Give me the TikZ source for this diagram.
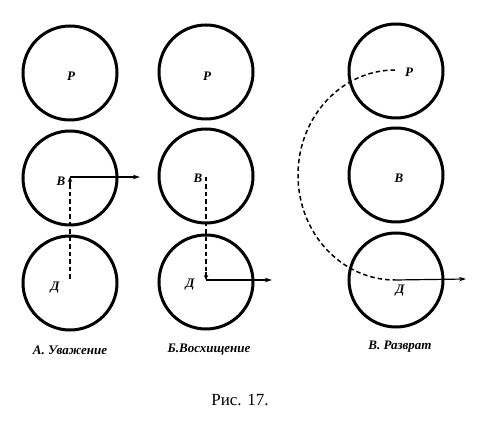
\documentclass[tikz,border=0pt]{standalone}
\usepackage{fontspec}
\setmainfont{Liberation Serif}
\usetikzlibrary{arrows.meta}
\tikzset{
  ring/.style={draw, circle, line width=3pt, minimum size=94pt, inner sep=0pt},
  lbl/.style={font=\fontsize{13}{15}\selectfont\bfseries\itshape, inner sep=0pt},
  vec/.style={line width=1.2pt, -{Stealth[length=7pt,width=4.5pt]}},
  trace/.style={line width=1.5pt, dash pattern=on 4.5pt off 3pt},
  tip/.style={-{Stealth[length=5pt,width=4.5pt,sep=0pt]}},
}
\begin{document}
\begin{tikzpicture}[x=1pt,y=-1pt]
\useasboundingbox (0,0) rectangle (485,430);
% A. respect
\node[ring] (aRc) at (70,73) {};
\node[ring] (aVc) at (70,178) {};
\node[ring] (aDc) at (70,283) {};
\node[lbl] (aR) at (71,76) {Р};
\node[lbl] (aV) at (61,181) {В};
\node[lbl] (aD) at (55,288) {Д};
\coordinate (aVp) at (70,177);
\coordinate (aDp) at (70,279);
\coordinate (aE) at (140,177);
\draw[trace] (aDp) -- (70,184);
\draw[tip, line width=1.2pt] (70,186) -- (aVp);
\draw[vec] (aVp) -- (aE);
% B. admiration
\node[ring] (bRc) at (206,72) {};
\node[ring] (bVc) at (206,176) {};
\node[ring] (bDc) at (206,282) {};
\node[lbl] (bR) at (207,76) {Р};
\node[lbl] (bV) at (198,178) {В};
\node[lbl] (bD) at (190,285) {Д};
\coordinate (bVp) at (206,177);
\coordinate (bDp) at (206,280);
\coordinate (bE) at (272,280);
\draw[trace] (bVp) -- (206,273);
\draw[tip, line width=1.2pt] (206,272) -- (bDp);
\draw[vec] (bDp) -- (bE);
% V. debauchery
\node[ring] (cRc) at (396,71) {};
\node[ring] (cVc) at (396,175) {};
\node[ring] (cDc) at (396,280) {};
\node[lbl] (cR) at (409,72) {Р};
\node[lbl] (cV) at (399,178) {В};
\node[lbl] (cD) at (400,291) {Д};
\coordinate (cRp) at (395,70);
\coordinate (cDp) at (395,280);
\coordinate (cE) at (466,279);
\draw[trace] (cRp) arc[start angle=90, end angle=270, x radius=97pt, y radius=105pt];
\draw[vec] (cDp) -- (cE);
% captions
\node[lbl] (capA) at (70,350) {А. Уважение};
\node[lbl] (capB) at (209,350) {Б.Восхищение};
\node[lbl] (capC) at (400,347) {В. Разврат};
\node[font=\fontsize{17}{19}\selectfont] (fig) at (240,400) {Рис. 17.};
\end{tikzpicture}
\end{document}
